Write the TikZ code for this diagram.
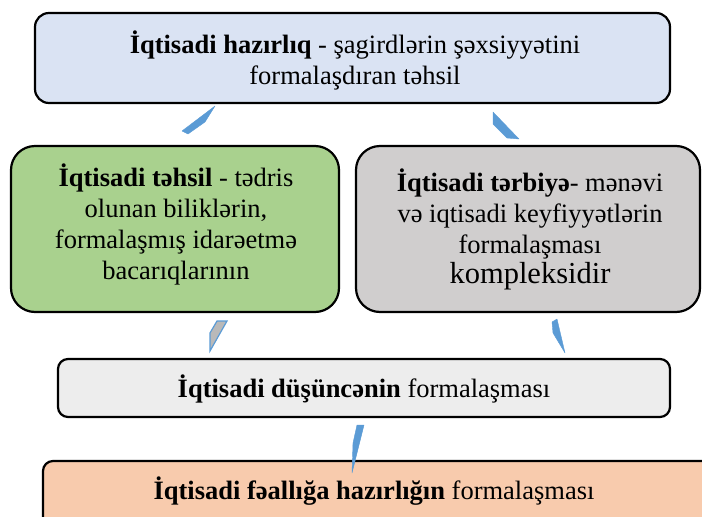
\documentclass[tikz,border=0pt]{standalone}
\usepackage{fontspec}
\setmainfont{Liberation Serif}
\definecolor{topfill}{HTML}{DAE3F3}
\definecolor{greenfill}{HTML}{A9D18E}
\definecolor{grayfill}{HTML}{D0CECE}
\definecolor{midfill}{HTML}{EDEDED}
\definecolor{orangefill}{HTML}{F8CBAD}
\definecolor{linkblue}{HTML}{5B9BD5}
\begin{document}
\begin{tikzpicture}[x=1pt,y=-1pt,
  box/.style={draw=black, line width=2.2pt, inner sep=0pt},
  txt/.style={align=center, inner sep=0pt, font=\fontsize{26.5}{31}\selectfont},
  sliver/.style={fill=linkblue, draw=linkblue, line width=0.4pt, line join=round}]
\useasboundingbox (0,0) rectangle (702,517);
\clip (0,0) rectangle (702,517);
% boxes
\node[box, fill=topfill, rounded corners=14pt, minimum width=635pt, minimum height=90pt] (top) at (352.5,58) {};
\node[box, fill=greenfill, rounded corners=24pt, minimum width=328pt, minimum height=166pt] (edu) at (175,229) {};
\node[box, fill=grayfill, rounded corners=24pt, minimum width=344pt, minimum height=166pt] (upb) at (528,229) {};
\node[box, fill=midfill, rounded corners=10pt, minimum width=612pt, minimum height=58pt] (mid) at (364,388) {};
\node[box, fill=orangefill, rounded corners=10pt, minimum width=677pt, minimum height=80pt] (act) at (381.5,501) {};
% texts
\node[txt] (topT) at (355,60)
  {\textbf{İqtisadi hazırlıq} - şagirdlərin şəxsiyyətini\\formalaşdıran təhsil};
\node[txt] (eduT) at (176,224)
  {\textbf{İqtisadi təhsil} - tədris\\olunan biliklərin,\\formalaşmış idarəetmə\\bacarıqlarının};
\node[txt] (upbT) at (530,229)
  {\textbf{İqtisadi tərbiyə}- mənəvi\\və iqtisadi keyfiyyətlərin\\formalaşması\\[-1pt]{\fontsize{30.5}{31}\selectfont kompleksidir}};
\node[txt] (midT) at (364,389) {\textbf{İqtisadi düşüncənin} formalaşması};
\node[txt] (actT) at (374,491) {\textbf{İqtisadi fəallığa hazırlığın} formalaşması};
% blue slivers between boxes
\fill[sliver] (215,106) -- (205,122) -- (188,134) -- (182,131) -- cycle;
\fill[sliver] (493,112) -- (519,139) -- (507,138) -- (493,124) -- cycle;
\filldraw[fill=gray!55, draw=linkblue, line width=1.2pt] (217,321) -- (227,321) -- (210,351) -- (210,333) -- cycle;
\fill[sliver] (557,319) -- (565,353) -- (553,333) -- (552,322) -- cycle;
\fill[sliver] (357,425) -- (364,425) -- (352,473) -- (353,443) -- cycle;
\end{tikzpicture}
\end{document}
